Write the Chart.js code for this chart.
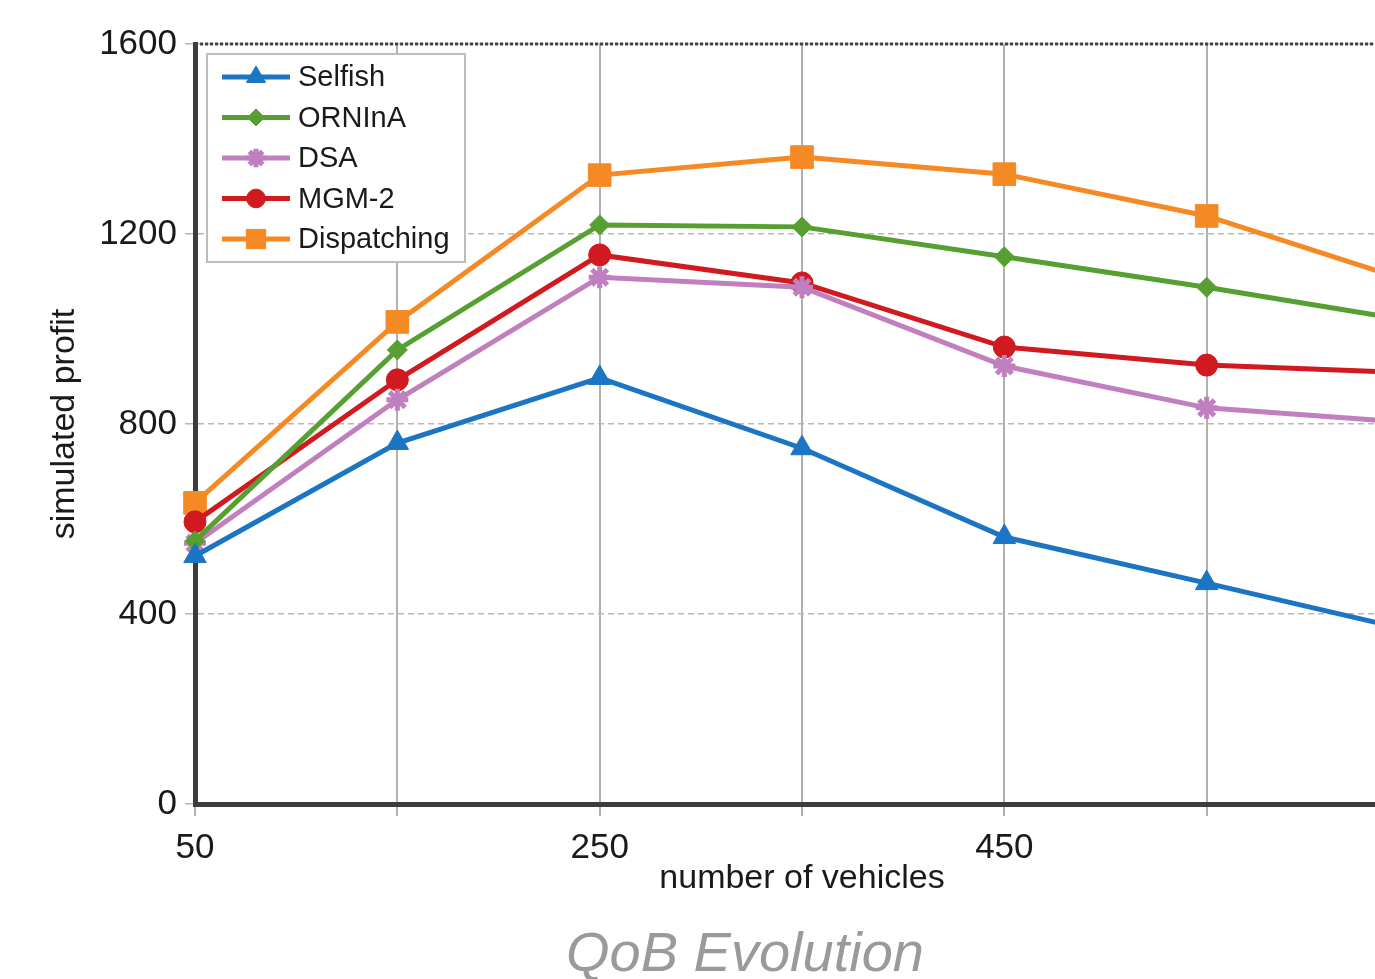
<!DOCTYPE html>
<html>
<head>
<meta charset="utf-8">
<script src="https://cdn.jsdelivr.net/npm/chart.js@4/dist/chart.umd.min.js"></script>
<style>
  html, body { margin: 0; padding: 0; background: #fff; overflow: hidden; }
  #wrap { position: relative; width: 1375px; height: 979px; overflow: hidden; }
  #chart { position: absolute; left: 0; top: 0; }
  #caption {
    position: absolute; left: 745px; top: 924px; transform: translateX(-50%);
    font-family: 'Liberation Sans', Arial, sans-serif; font-style: italic;
    font-size: 56px; color: #9a9a9a; white-space: nowrap; line-height: 1;
  }
</style>
</head>
<body>
<div id="wrap">
  <canvas id="chart" width="1426" height="979"></canvas>
  <div id="caption">QoB Evolution</div>
</div>
<script>
// 数据
const vehicles = [50, 150, 250, 350, 450, 550, 650];
const xTickLabels = [50, 250, 450];
const yTickValues = [0, 400, 800, 1200, 1600];

const selfish     = [522, 760, 897, 749, 562, 465, 366];
const orninA      = [554, 956, 1219, 1215, 1152, 1088, 1018];
const dsa         = [549, 851, 1109, 1088, 922, 834, 803];
const mgm2        = [594, 893, 1156, 1097, 962, 924, 908];
const dispatching = [634, 1015, 1324, 1362, 1326, 1238, 1101];

const FONT = "'Liberation Sans', Arial, sans-serif";

function series(label, values, color, style, radius, bw) {
  return {
    label,
    data: values.map((v, i) => ({ x: vehicles[i], y: v })),
    borderColor: color,
    backgroundColor: color,
    borderWidth: 5,
    pointStyle: style,
    pointRadius: radius,
    pointBorderWidth: bw,
    pointBackgroundColor: color,
    pointBorderColor: color,
    tension: 0,
    clip: false
  };
}

const datasets = [
  series('Selfish', selfish, '#1c75c3', 'triangle', 13, 1),
  series('ORNInA', orninA, '#55a031', 'rectRot', 10, 1),
  series('DSA', dsa, '#c07fbf', 'star', 11, 5),
  series('MGM-2', mgm2, '#d01a20', 'circle', 11, 1),
  series('Dispatching', dispatching, '#f58a24', 'rect', 16, 1)
];

// 图内图例 + 上边框虚线
const boxLegend = {
  id: 'boxLegend',
  afterDatasetsDraw(chart) {
    const ctx = chart.ctx;
    const area = chart.chartArea;
    ctx.save();
    // top border
    ctx.strokeStyle = '#444';
    ctx.lineWidth = 3;
    ctx.setLineDash([3, 2]);
    ctx.beginPath();
    ctx.moveTo(area.left, area.top);
    ctx.lineTo(area.right, area.top);
    ctx.stroke();
    ctx.setLineDash([]);

    // legend box
    const x0 = 207, y0 = 54, w = 258, h = 208;
    ctx.fillStyle = '#fff';
    ctx.fillRect(x0, y0, w, h);
    ctx.strokeStyle = '#bdbdbd';
    ctx.lineWidth = 2;
    ctx.strokeRect(x0, y0, w, h);

    ctx.font = '29px ' + FONT;
    ctx.textBaseline = 'middle';
    chart.data.datasets.forEach((ds, i) => {
      const cy = 77 + i * 40.5;
      ctx.strokeStyle = ds.borderColor;
      ctx.lineWidth = 5;
      ctx.beginPath();
      ctx.moveTo(222, cy);
      ctx.lineTo(290, cy);
      ctx.stroke();
      ctx.fillStyle = ds.backgroundColor;
      ctx.lineWidth = ds.pointBorderWidth;
      Chart.helpers.drawPoint(ctx, {
        pointStyle: ds.pointStyle,
        radius: ds.pointRadius * 0.85,
        rotation: 0,
        borderWidth: ds.pointBorderWidth
      }, 256, cy);
      ctx.fillStyle = '#1a1a1a';
      ctx.fillText(ds.label, 298, cy + 1);
    });
    ctx.restore();
  }
};

new Chart(document.getElementById('chart'), {
  type: 'line',
  data: { datasets },
  plugins: [boxLegend],
  options: {
    responsive: false,
    animation: false,
    layout: { padding: { left: 42, top: 44, right: 10, bottom: 75 } },
    plugins: { legend: { display: false }, tooltip: { enabled: false } },
    scales: {
      x: {
        type: 'linear',
        min: 50,
        max: 650,
        afterFit: s => { s.height = 100; },
        border: { display: true, color: '#3c3c3c', width: 5 },
        grid: { color: '#b0b0b0', lineWidth: 2, tickLength: 12, tickColor: '#b0b0b0' },
        ticks: {
          stepSize: 100,
          autoSkip: false,
          maxRotation: 0,
          padding: 11,
          color: '#1a1a1a',
          font: { family: FONT, size: 35 },
          callback: v => xTickLabels.includes(v) ? String(v) : ''
        },
        title: {
          display: true,
          text: 'number of vehicles',
          color: '#1a1a1a',
          font: { family: FONT, size: 34 },
          padding: { top: 0, bottom: 5 }
        }
      },
      y: {
        min: 0,
        max: 1600,
        afterFit: s => { s.width = 153; },
        afterBuildTicks: s => { s.ticks = yTickValues.map(v => ({ value: v })); },
        border: { display: true, color: '#3c3c3c', width: 5, dash: [6, 4] },
        grid: { color: '#b8b8b8', lineWidth: 1.5, tickLength: 10, tickColor: '#b8b8b8', tickBorderDash: [] },
        ticks: {
          padding: 8,
          color: '#1a1a1a',
          font: { family: FONT, size: 35 },
          callback: v => String(v)
        },
        title: {
          display: true,
          text: 'simulated profit',
          color: '#1a1a1a',
          font: { family: FONT, size: 34 },
          padding: { top: 2, bottom: 0 }
        }
      }
    }
  }
});
</script>
</body>
</html>
